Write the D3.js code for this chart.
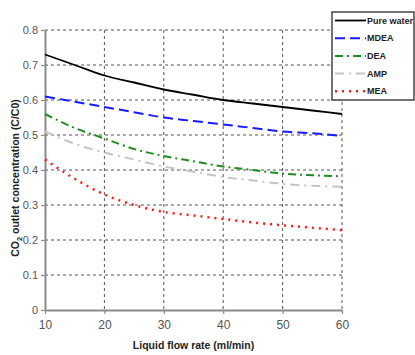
<!DOCTYPE html>
<html>
<head>
<meta charset="utf-8">
<script src="https://cdn.jsdelivr.net/npm/d3@7"></script>
<style>
  body { margin: 0; background: #fff; }
  svg { display: block; font-family: "Liberation Sans", Arial, sans-serif; }
</style>
</head>
<body>
<svg id="chart" width="415" height="355"></svg>
<script>
// data
var flowRates = [10, 15, 20, 25, 30, 35, 40, 45, 50, 55, 60];
var pureWater = [0.73, 0.70, 0.67, 0.65, 0.63, 0.615, 0.60, 0.59, 0.58, 0.57, 0.56];
var mdea      = [0.61, 0.595, 0.58, 0.565, 0.55, 0.54, 0.53, 0.52, 0.51, 0.505, 0.497];
var dea       = [0.56, 0.52, 0.49, 0.46, 0.44, 0.425, 0.41, 0.40, 0.39, 0.385, 0.382];
var amp       = [0.51, 0.475, 0.45, 0.43, 0.41, 0.395, 0.38, 0.37, 0.36, 0.355, 0.352];
var mea       = [0.43, 0.375, 0.33, 0.30, 0.28, 0.27, 0.26, 0.25, 0.242, 0.235, 0.228];
var seriesNames = ['Pure water', 'MDEA', 'DEA', 'AMP', 'MEA'];
var xTicks = [10, 20, 30, 40, 50, 60];
var yTicks = [0, 0.1, 0.2, 0.3, 0.4, 0.5, 0.6, 0.7, 0.8];

var series = [
  { name: seriesNames[0], values: pureWater, color: '#000000', dash: null, width: 1.8 },
  { name: seriesNames[1], values: mdea, color: '#1a1aff', dash: '10,5', width: 2 },
  { name: seriesNames[2], values: dea, color: '#1e8c1e', dash: '8,4,2,4', width: 2 },
  { name: seriesNames[3], values: amp, color: '#c4c4c4', dash: '9,5,2,5', width: 2 },
  { name: seriesNames[4], values: mea, color: '#ff1a1a', dash: '2,5', width: 2.5 }
];

var svg = d3.select('#chart');
var margin = { left: 45, right: 73, top: 30, bottom: 45 };
var w = 415 - margin.left - margin.right,
    h = 355 - margin.top - margin.bottom;

var x = d3.scaleLinear().domain([10, 60]).range([0, w]);
var y = d3.scaleLinear().domain([0, 0.8]).range([h, 0]);

var g = svg.append('g')
    .attr('transform', 'translate(' + margin.left + ',' + margin.top + ')');

// dotted grid
g.append('g').selectAll('line.gx')
  .data(xTicks.slice(1))
  .enter().append('line')
    .attr('x1', d => x(d)).attr('x2', d => x(d))
    .attr('y1', 0).attr('y2', h)
    .attr('stroke', '#555').attr('stroke-width', 1)
    .attr('stroke-dasharray', '3,3');
g.append('g').selectAll('line.gy')
  .data(yTicks.slice(1))
  .enter().append('line')
    .attr('x1', 0).attr('x2', w)
    .attr('y1', d => y(d)).attr('y2', d => y(d))
    .attr('stroke', '#555').attr('stroke-width', 1)
    .attr('stroke-dasharray', '3,3');

// axes
var xAxis = g.append('g')
    .attr('transform', 'translate(0,' + h + ')')
    .call(d3.axisBottom(x).tickValues(xTicks).tickSize(4).tickPadding(6).tickSizeOuter(0));
var yAxis = g.append('g')
    .call(d3.axisLeft(y).tickValues(yTicks).tickSize(4).tickPadding(3).tickSizeOuter(0)
      .tickFormat(d => d === 0 ? '0' : d3.format('.1f')(d)));

[xAxis, yAxis].forEach(function(a) {
  a.select('.domain').attr('stroke', '#8a8a8a').attr('stroke-width', 2);
  a.selectAll('.tick line').attr('stroke', '#8a8a8a').attr('stroke-width', 1.2);
  a.selectAll('.tick text').attr('fill', '#555').attr('font-size', 11)
    .attr('font-family', '"Liberation Sans", Arial, sans-serif');
});
xAxis.selectAll('.tick text').attr('font-size', 12);

// lines
var line = d3.line()
    .x((d, i) => x(flowRates[i]))
    .y(d => y(d))
    .curve(d3.curveMonotoneX);

g.selectAll('path.series')
  .data(series)
  .enter().append('path')
    .attr('class', 'series')
    .attr('fill', 'none')
    .attr('stroke', d => d.color)
    .attr('stroke-width', d => d.width)
    .attr('stroke-dasharray', d => d.dash)
    .attr('d', d => line(d.values));

// axis titles
svg.append('text')
    .attr('x', margin.left + w / 2)
    .attr('y', 349)
    .attr('text-anchor', 'middle')
    .attr('font-size', 10.5).attr('font-weight', 'bold').attr('fill', '#222')
    .text('Liquid flow rate (ml/min)');

var yt = svg.append('text')
    .attr('transform', 'translate(19,' + (margin.top + h / 2 + 8) + ') rotate(-90)')
    .attr('text-anchor', 'middle')
    .attr('font-size', 10.5).attr('font-weight', 'bold').attr('fill', '#222');
yt.append('tspan').text('CO');
yt.append('tspan').attr('font-size', 7.5).attr('dy', 3).text('2');
yt.append('tspan').attr('dy', -3).text(' outlet concentration (C/C0)');

// legend
var lg = svg.append('g').attr('transform', 'translate(332,12)');
lg.append('rect')
    .attr('width', 82).attr('height', 88)
    .attr('fill', '#fff').attr('stroke', '#444').attr('stroke-width', 1.5);
var item = lg.selectAll('g.item')
  .data(series)
  .enter().append('g')
    .attr('transform', (d, i) => 'translate(0,' + (8.5 + i * 17.7) + ')');
item.append('line')
    .attr('x1', 3).attr('x2', 34)
    .attr('stroke', d => d.color)
    .attr('stroke-width', d => d.width)
    .attr('stroke-dasharray', d => d.dash);
item.append('text')
    .attr('x', 35).attr('dy', '0.35em')
    .attr('font-size', 9).attr('font-weight', 'bold').attr('fill', '#222')
    .text(d => d.name);
</script>
</body>
</html>
